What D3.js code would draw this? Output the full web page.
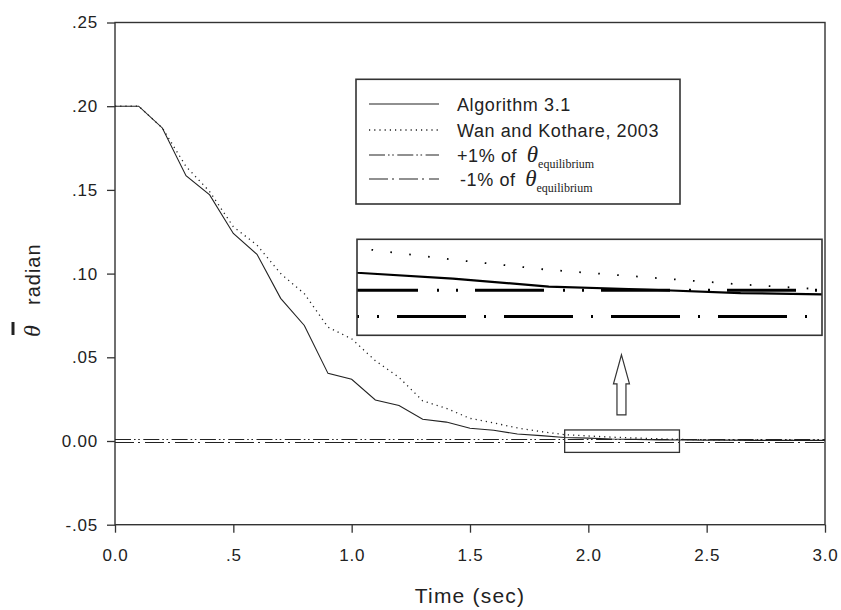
<!DOCTYPE html>
<html>
<head>
<meta charset="utf-8">
<script src="https://cdn.jsdelivr.net/npm/d3@7"></script>
<style>
  body { margin: 0; background: #fff; }
  svg { display: block; }
  .tick text { font-family: Arial, "Liberation Sans", sans-serif; font-size: 17px; fill: #222; letter-spacing: 0.8px; }
  .tick line { stroke: #333; stroke-width: 1.3; }
</style>
</head>
<body>
<div id="chart"></div>
<script>
// time steps (sec)
const time = [0.0, 0.1, 0.2, 0.3, 0.4, 0.5, 0.6, 0.7, 0.8, 0.9, 1.0,
              1.1, 1.2, 1.3, 1.4, 1.5, 1.6, 1.7, 1.8, 1.9, 2.0,
              2.1, 2.2, 2.3, 2.4, 2.5, 2.6, 2.7, 2.8, 2.9, 3.0];
// Algorithm 3.1 (solid)
const algorithm31 = [0.200, 0.200, 0.187, 0.1585, 0.147, 0.124, 0.1115, 0.0852, 0.0690, 0.0404, 0.0369,
                     0.0245, 0.0212, 0.0130, 0.0113, 0.0076, 0.0064, 0.0042, 0.0032, 0.0021, 0.0017,
                     0.00115, 0.00095, 0.0007, 0.0006, 0.0005, 0.0005, 0.0004, 0.0004, 0.0004, 0.0004];
// Wan and Kothare, 2003 (dotted)
const wanKothare = [0.200, 0.200, 0.187, 0.164, 0.149, 0.128, 0.117, 0.100, 0.088, 0.068, 0.061,
                    0.048, 0.038, 0.024, 0.0195, 0.0135, 0.0108, 0.0078, 0.0056, 0.0038, 0.0030,
                    0.0023, 0.0018, 0.0013, 0.0009, 0.0007, 0.0006, 0.0005, 0.0005, 0.0004, 0.0004];
// +/-1% of theta equilibrium
const plusOnePct = 0.0009;
const minusOnePct = -0.0009;

const xTicks = [0, 0.5, 1.0, 1.5, 2.0, 2.5, 3.0];
const xTickLabels = ["0.0", ".5", "1.0", "1.5", "2.0", "2.5", "3.0"];
const yTicks = [-0.05, 0, 0.05, 0.10, 0.15, 0.20, 0.25];
const yTickLabels = ["-.05", "0.00", ".05", ".10", ".15", ".20", ".25"];

// zoomed window (small rectangle) and the value range shown in the inset
const zoomTime = [1.9, 2.385];
const zoomValue = [-0.0068, 0.0066];
const insetValue = [-0.0022, 0.0044];
// arrow from the small rectangle up to the inset
const arrowTime = 2.14;
const arrowValue = [0.0156, 0.0515];

const width = 841, height = 610;
const m = {left: 115, right: 16, top: 22.5, bottom: 85.3};
const font = 'Arial, "Liberation Sans", sans-serif';
const ink = "#222";

const svg = d3.select("#chart").append("svg")
  .attr("width", width)
  .attr("height", height);

const x = d3.scaleLinear().domain([0, 3]).range([m.left, width - m.right]);
const y = d3.scaleLinear().domain([-0.05, 0.25]).range([height - m.bottom, m.top]);

const rows = time.map((t, i) => ({t: t, a: algorithm31[i], w: wanKothare[i]}));

const dash = {
  solid: null,
  dotted: "1.2,4",
  plus: "16,3,1.6,2.6,1.6,3.5",
  minus: "19,4,2,5"
};

// axes
svg.append("g")
  .attr("transform", `translate(0,${y(-0.05)})`)
  .call(d3.axisBottom(x).tickValues(xTicks).tickFormat((d, i) => xTickLabels[i])
    .tickSize(8).tickSizeOuter(0).tickPadding(16))
  .call(g => g.select(".domain").remove());

svg.append("g")
  .attr("transform", `translate(${x(0)},0)`)
  .call(d3.axisLeft(y).tickValues(yTicks).tickFormat((d, i) => yTickLabels[i])
    .tickSize(8).tickSizeOuter(0).tickPadding(9))
  .call(g => g.select(".domain").remove());

svg.append("rect")
  .attr("x", x(0)).attr("y", y(0.25))
  .attr("width", x(3) - x(0)).attr("height", y(-0.05) - y(0.25))
  .attr("fill", "none").attr("stroke", "#333").attr("stroke-width", 1.4);

// series in the main plot
const lineA = d3.line().x(d => x(d.t)).y(d => y(d.a));
const lineW = d3.line().x(d => x(d.t)).y(d => y(d.w));

svg.append("line")
  .attr("x1", x(0)).attr("x2", x(3))
  .attr("y1", y(plusOnePct)).attr("y2", y(plusOnePct))
  .attr("stroke", ink).attr("stroke-width", 1.2)
  .attr("stroke-dasharray", dash.plus);
svg.append("line")
  .attr("x1", x(0)).attr("x2", x(3))
  .attr("y1", y(minusOnePct)).attr("y2", y(minusOnePct))
  .attr("stroke", ink).attr("stroke-width", 1.2)
  .attr("stroke-dasharray", dash.minus);

svg.append("path").datum(rows)
  .attr("d", lineW)
  .attr("fill", "none").attr("stroke", ink).attr("stroke-width", 1.3)
  .attr("stroke-dasharray", dash.dotted);
svg.append("path").datum(rows)
  .attr("d", lineA)
  .attr("fill", "none").attr("stroke", ink).attr("stroke-width", 1.1);

// small rectangle around the zoomed part
svg.append("rect")
  .attr("x", x(zoomTime[0])).attr("y", y(zoomValue[1]))
  .attr("width", x(zoomTime[1]) - x(zoomTime[0]))
  .attr("height", y(zoomValue[0]) - y(zoomValue[1]))
  .attr("fill", "none").attr("stroke", "#333").attr("stroke-width", 1.3);

// hollow arrow
const ax = x(arrowTime), ayTop = y(arrowValue[1]), ayBot = y(arrowValue[0]);
svg.append("path")
  .attr("d", `M${ax},${ayTop} L${ax + 8},${ayTop + 29} L${ax + 4.5},${ayTop + 29} L${ax + 4.5},${ayBot}
              L${ax - 4.5},${ayBot} L${ax - 4.5},${ayTop + 29} L${ax - 8},${ayTop + 29} Z`)
  .attr("fill", "#fff").attr("stroke", "#333").attr("stroke-width", 1.2);

// inset (magnified view)
const inset = {x0: 357, y0: 239.3, x1: 822, y1: 335.3};
const xi = d3.scaleLinear().domain(zoomTime).range([inset.x0, inset.x1]);
const yi = d3.scaleLinear().domain(insetValue).range([inset.y1, inset.y0]);

svg.append("clipPath").attr("id", "inset-clip")
  .append("rect")
  .attr("x", inset.x0).attr("y", inset.y0)
  .attr("width", inset.x1 - inset.x0).attr("height", inset.y1 - inset.y0);

svg.append("rect")
  .attr("x", inset.x0).attr("y", inset.y0)
  .attr("width", inset.x1 - inset.x0).attr("height", inset.y1 - inset.y0)
  .attr("fill", "#fff");

const gi = svg.append("g").attr("clip-path", "url(#inset-clip)");

gi.append("line")
  .attr("x1", xi(zoomTime[0])).attr("x2", xi(zoomTime[1]))
  .attr("y1", yi(plusOnePct)).attr("y2", yi(plusOnePct))
  .attr("stroke", "#000").attr("stroke-width", 3)
  .attr("stroke-dasharray", "69,19,2,17,2,17").attr("stroke-dashoffset", 8);
gi.append("line")
  .attr("x1", xi(zoomTime[0])).attr("x2", xi(zoomTime[1]))
  .attr("y1", yi(minusOnePct)).attr("y2", yi(minusOnePct))
  .attr("stroke", "#000").attr("stroke-width", 3)
  .attr("stroke-dasharray", "69,18,2,18").attr("stroke-dashoffset", 67);

const insetRows = rows.filter(d => d.t >= zoomTime[0] - 0.1 && d.t <= zoomTime[1] + 0.1);
gi.append("path").datum(insetRows)
  .attr("d", d3.line().x(d => xi(d.t)).y(d => yi(d.w)))
  .attr("fill", "none").attr("stroke", "#000").attr("stroke-width", 1.8)
  .attr("stroke-dasharray", "1.6,17.4");
gi.append("path").datum(insetRows)
  .attr("d", d3.line().x(d => xi(d.t)).y(d => yi(d.a)))
  .attr("fill", "none").attr("stroke", "#000").attr("stroke-width", 2.2);

svg.append("rect")
  .attr("x", inset.x0).attr("y", inset.y0)
  .attr("width", inset.x1 - inset.x0).attr("height", inset.y1 - inset.y0)
  .attr("fill", "none").attr("stroke", "#333").attr("stroke-width", 1.6);

// legend
const legend = svg.append("g");
legend.append("rect")
  .attr("x", 356).attr("y", 79.3).attr("width", 324).attr("height", 124.7)
  .attr("fill", "#fff").attr("stroke", "#333").attr("stroke-width", 1.6);

const legendItems = [
  {dash: dash.solid, label: "Algorithm 3.1", ly: 104},
  {dash: dash.dotted, label: "Wan and Kothare, 2003", ly: 130},
  {dash: dash.plus, label: "+1% of ", ly: 155, theta: true},
  {dash: dash.minus, label: "-1% of ", ly: 179, theta: true, dx: 3}
];
legendItems.forEach(it => {
  legend.append("line")
    .attr("x1", 369).attr("x2", 439)
    .attr("y1", it.ly).attr("y2", it.ly)
    .attr("stroke", ink).attr("stroke-width", it.dash === dash.dotted ? 1.3 : 1.1)
    .attr("stroke-dasharray", it.dash);
  const t = legend.append("text")
    .attr("x", 457 + (it.dx || 0)).attr("y", it.ly + 6.5)
    .attr("font-family", font).attr("font-size", 18)
    .attr("letter-spacing", 0.6)
    .attr("fill", ink);
  t.append("tspan").text(it.label);
  if (it.theta) {
    t.append("tspan")
      .attr("dx", 4)
      .attr("font-family", '"Liberation Serif", "DejaVu Serif", serif')
      .attr("font-style", "italic").attr("font-size", 23)
      .attr("letter-spacing", 0)
      .text("θ");
    t.append("tspan")
      .attr("dy", 6)
      .attr("font-family", '"Liberation Serif", "DejaVu Serif", serif')
      .attr("font-size", 12).attr("letter-spacing", 0)
      .text("equilibrium");
  }
});

// axis titles
svg.append("text")
  .attr("x", (x(0) + x(3)) / 2).attr("y", 603)
  .attr("text-anchor", "middle")
  .attr("font-family", font).attr("font-size", 21)
  .attr("letter-spacing", 1.2)
  .attr("fill", ink)
  .text("Time (sec)");

const yt = svg.append("g").attr("transform", "translate(40,289) rotate(-90)");
yt.append("text")
  .attr("x", -48).attr("y", 0)
  .attr("font-family", '"Liberation Serif", "DejaVu Serif", serif')
  .attr("font-style", "italic").attr("font-size", 24)
  .attr("fill", ink)
  .text("θ");
yt.append("line")
  .attr("x1", -46).attr("x2", -33)
  .attr("y1", -27).attr("y2", -27)
  .attr("stroke", ink).attr("stroke-width", 3);
yt.append("text")
  .attr("x", -16).attr("y", 0)
  .attr("font-family", font).attr("font-size", 20)
  .attr("letter-spacing", 1)
  .attr("fill", ink)
  .text("radian");
</script>
</body>
</html>
